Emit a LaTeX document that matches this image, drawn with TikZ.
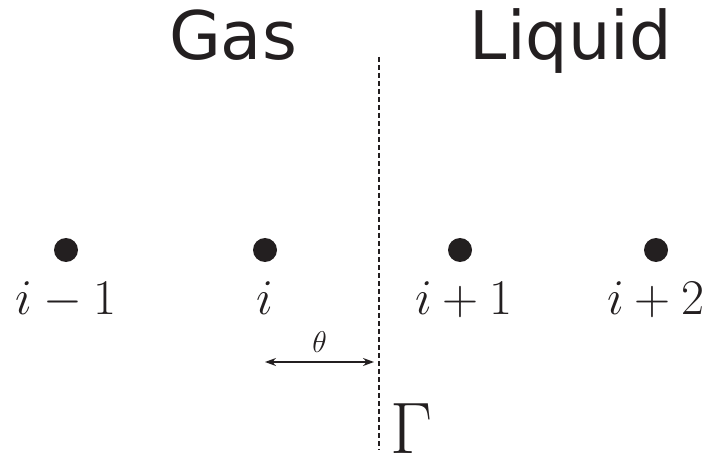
\RequirePackage{fix-cm}
\documentclass[tikz,border=0pt]{standalone}
\usepackage{fontspec}
\usepackage{tikz}
\usepackage{xcolor}
\usetikzlibrary{arrows.meta, positioning}
\newfontfamily\phasefont{DejaVu Sans}
\definecolor{darkInk}{RGB}{35,31,32}
\tikzset{
    cellpoint/.style={
        circle,
        fill=darkInk,
        draw=none,
        inner sep=0pt,
        minimum size=24pt
    },
    celllabel/.style={
        inner sep=0pt,
        text=darkInk,
        font=\fontsize{50}{58}\selectfont
    },
    phaselabel/.style={
        inner sep=0pt,
        anchor=base,
        text=darkInk,
        font=\phasefont\fontsize{67}{77}\selectfont
    },
    interface/.style={draw=darkInk, line width=1.2pt, dash pattern=on 5pt off 3pt},
    gaparrow/.style={{Stealth[length=11pt,width=8pt]}-{Stealth[length=11pt,width=8pt]}, line width=1.2pt, draw=darkInk}
}

\begin{document}
\begin{tikzpicture}[x=1pt, y=1pt]
        \useasboundingbox (0,0) rectangle (709,461);
        % phases
        \node[phaselabel] (gas) at (233,401) {Gas};
        \node[phaselabel] (liquid) at (571,401) {Liquid};
        % cells
        \node[cellpoint] (cellA) at (66,211) {};
        \node[cellpoint] (cellB) at (265,211) {};
        \node[cellpoint] (cellC) at (460,211) {};
        \node[cellpoint] (cellD) at (656,211) {};
        \node[celllabel, below=19pt of cellA] (labA) {$i-1$};
        \node[celllabel, below=19pt of cellB] (labB) {$i$};
        \node[celllabel, below=19pt of cellC, xshift=4pt] (labC) {$i+1$};
        \node[celllabel, below=19pt of cellD] (labD) {$i+2$};
        % interface
        \coordinate (gammaTop) at (379,404);
        \coordinate (gammaBot) at (379,11);
        \draw[interface] (gammaTop) -- (gammaBot);
        \node[celllabel, font=\fontsize{73}{80}\selectfont] (gamma) at (412,32) {$\Gamma$};
        % distance to interface
        \coordinate (thetaL) at (265,99);
        \coordinate (thetaR) at (374,99);
        \draw[gaparrow] (thetaL) -- (thetaR)
            node[midway, above=9pt, celllabel, font=\fontsize{30}{36}\selectfont] (theta) {$\theta$};
    \end{tikzpicture}
\end{document}
